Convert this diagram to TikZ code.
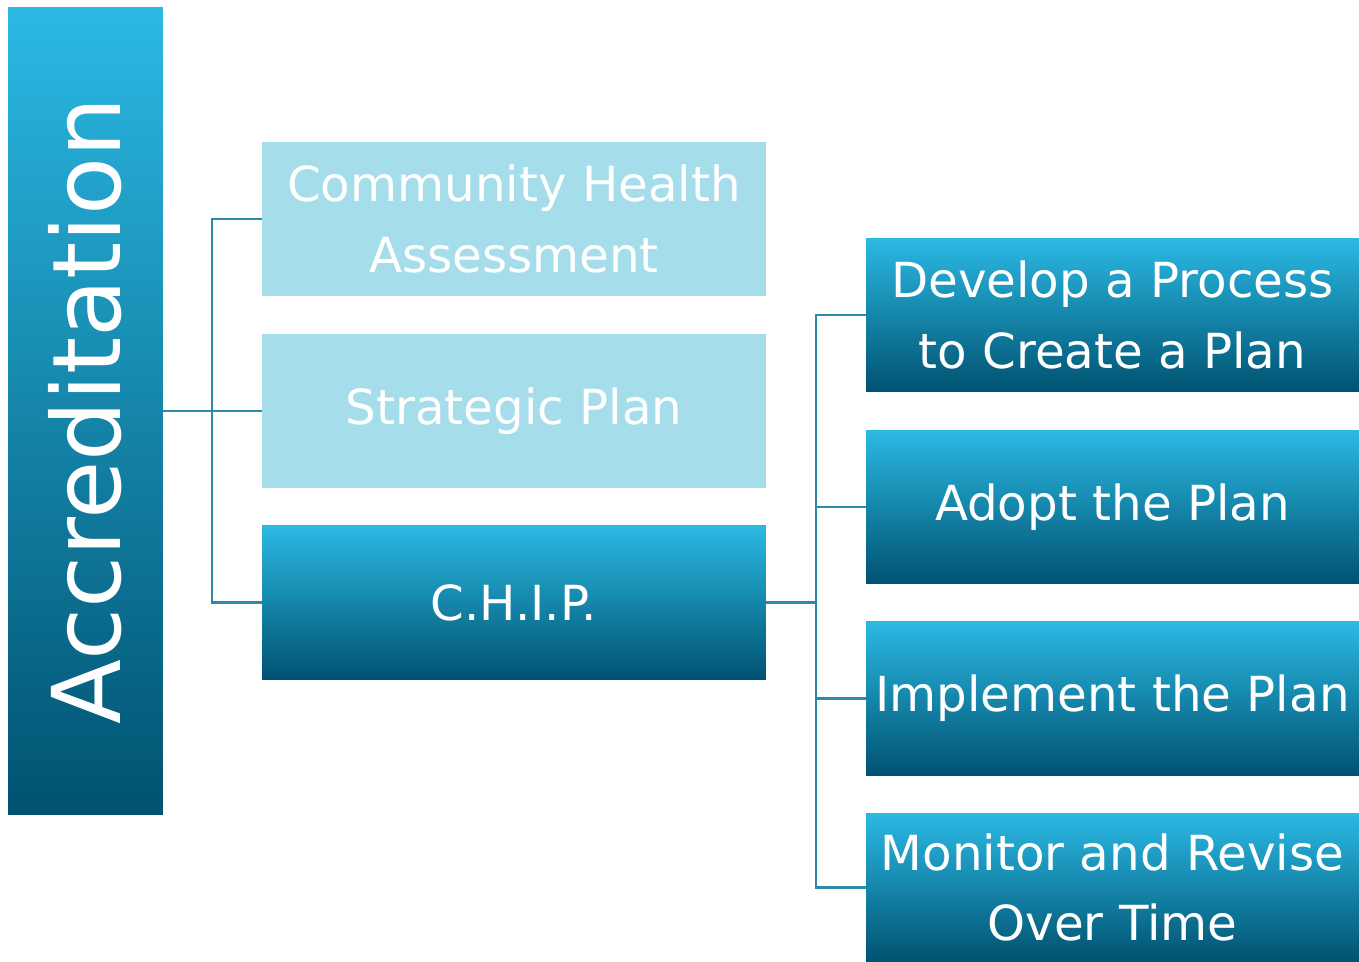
\documentclass[tikz,border=0pt]{standalone}
\usepackage{fontspec}
\setmainfont{DejaVu Sans}
\definecolor{boxtop}{RGB}{43,185,228}
\definecolor{boxmid}{RGB}{10,145,185}
\definecolor{boxbot}{RGB}{0,82,112}
\definecolor{boxlight}{RGB}{166,221,234}
\definecolor{linkblue}{RGB}{46,138,164}
\tikzset{
  darkbox/.style={top color=boxtop, middle color=boxmid, bottom color=boxbot},
  lightbox/.style={fill=boxlight},
  midbox/.style={minimum width=10.08cm, minimum height=3.08cm},
  rightbox/.style={minimum width=9.86cm, minimum height=3.08cm}
}

\begin{document}
\begin{tikzpicture}
  [x=0.02cm,y=-0.02cm,every node/.style={shape=rectangle, inner sep=0pt,
    outer sep=0pt, text=white, align=center,
    font=\fontsize{27.5}{40}\selectfont}]
  \useasboundingbox (0,0) rectangle (1359,962);
  \node[darkbox, minimum width=3.1cm, minimum height=16.16cm,
    font=\fontsize{54}{60}\selectfont] (acc) at (85.5,411)
    {\rotatebox{90}{Accreditation}};
  \node[lightbox, midbox] (cha) at (514,219) {Community Health\\Assessment};
  \node[lightbox, midbox] (sp) at (514,411) {Strategic Plan};
  \node[darkbox, midbox] (chip) at (514,602.5) {C.H.I.P.};
  \node[darkbox, rightbox] (dev) at (1112.5,315) {Develop a Process\\to Create a Plan};
  \node[darkbox, rightbox] (adopt) at (1112.5,507) {Adopt the Plan};
  \node[darkbox, rightbox] (impl) at (1112.5,698.5) {Implement the Plan};
  \node[darkbox, rightbox, minimum height=2.98cm] (mon) at (1112.5,887.5)
    {Monitor and Revise\\Over Time};
  \coordinate (b1) at (212,411);
  \coordinate (b2) at (816,602.5);
  \begin{scope}[linkblue, line width=1.3pt]
  \foreach \to in {cha,sp,chip}
     \draw (acc.east) -- (b1) |- (\to.west);
  \foreach \to in {dev,adopt,impl,mon}
     \draw (chip.east) -- (b2) |- (\to.west);
  \end{scope}
\end{tikzpicture}
\end{document}
